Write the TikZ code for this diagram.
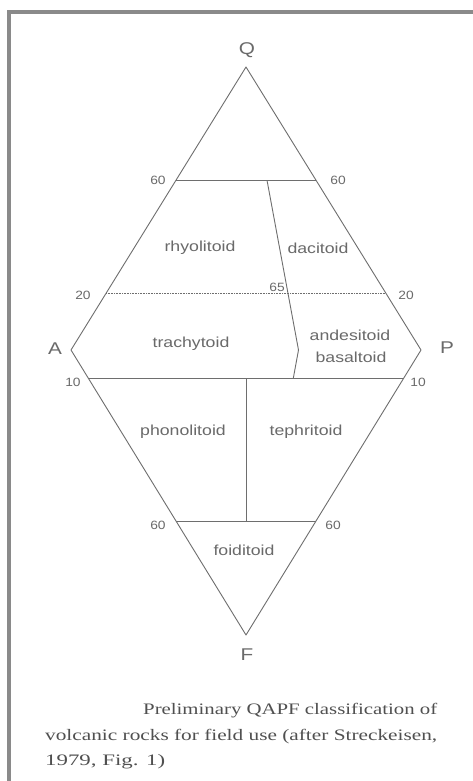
\documentclass[tikz,border=0pt]{standalone}
\usepackage{fontspec}
\setmainfont{Liberation Serif}
\setsansfont{Liberation Sans}
\usetikzlibrary{calc}
\definecolor{lineg}{HTML}{6E6E6E}
\definecolor{textg}{HTML}{6A6A6A}
\definecolor{capg}{HTML}{505050}
\definecolor{frameg}{HTML}{8A8A8A}
\newcommand{\wlab}[1]{\scalebox{1.22}[1]{#1}}
\newcommand{\wtick}[1]{\scalebox{1.15}[1]{#1}}
\begin{document}
\begin{tikzpicture}[x=1pt,y=-1pt,
  edge/.style={draw=lineg,line width=0.9pt,line join=round},
  region/.style={text=textg,font=\sffamily\fontsize{14.5}{16}\selectfont,inner sep=0pt},
  tick/.style={text=textg,font=\sffamily\fontsize{12}{13}\selectfont,inner sep=0pt},
  corner/.style={text=textg,font=\sffamily\fontsize{17}{19}\selectfont,inner sep=0pt},
  captxt/.style={text=capg,font=\rmfamily\fontsize{16}{18}\selectfont,inner sep=0pt,anchor=base west}]

\useasboundingbox (0,0) rectangle (473,781);
\fill[white] (0,0) rectangle (473,781);
\draw[frameg,line width=4pt] (9,783) -- (9,12) -- (475,12);

% vertices
\coordinate (Q) at (246,67);
\coordinate (A) at (71,350);
\coordinate (P) at (421,350);
\coordinate (F) at (246,635);

% field boundaries
\coordinate (q60a) at ($(A)!0.6!(Q)$);
\coordinate (q60p) at ($(P)!0.6!(Q)$);
\coordinate (q20a) at ($(A)!0.2!(Q)$);
\coordinate (q20p) at ($(P)!0.2!(Q)$);
\coordinate (f10a) at ($(A)!0.1!(F)$);
\coordinate (f10p) at ($(P)!0.1!(F)$);
\coordinate (f60a) at ($(A)!0.6!(F)$);
\coordinate (f60p) at ($(P)!0.6!(F)$);
\coordinate (d60) at ($(q60a)!0.65!(q60p)$);
\coordinate (d20) at ($(q20a)!0.65!(q20p)$);
\coordinate (d0) at ($(A)!0.65!(P)$);
\coordinate (d10) at ($(f10a)!0.65!(f10p)$);
\coordinate (m10) at ($(f10a)!0.5!(f10p)$);
\coordinate (m60) at ($(f60a)!0.5!(f60p)$);

\draw[edge] (Q) -- (P) -- (F) -- (A) -- cycle;
\draw[edge] (q60a) -- (q60p);
\draw[edge,line width=0.8pt,dash pattern=on 0.8pt off 0.8pt] (q20a) -- (q20p);
\draw[edge] (d60) -- (d20) -- (d0) -- (d10);
\draw[edge] (f10a) -- (f10p);
\draw[edge] (f60a) -- (f60p);
\draw[edge] (m10) -- (m60);

% corner labels
\node[corner] (lQ) at (247,50) {\wlab{Q}};
\node[corner] (lA) at (55,349) {\wlab{A}};
\node[corner] (lP) at (447,348) {\wlab{P}};
\node[corner] (lF) at (247,655) {\wlab{F}};

% tick labels
\node[tick] (t60a) at (158,180) {\wtick{60}};
\node[tick] (t60p) at (338,180) {\wtick{60}};
\node[tick] (t20a) at (83,295) {\wtick{20}};
\node[tick] (t20p) at (406,295) {\wtick{20}};
\node[tick] (t65) at (277,287) {\wtick{65}};
\node[tick] (t10a) at (73,382) {\wtick{10}};
\node[tick] (t10p) at (418,382) {\wtick{10}};
\node[tick] (t60fa) at (158,525) {\wtick{60}};
\node[tick] (t60fp) at (333,525) {\wtick{60}};

% field names
\node[region] (rhy) at (200,248) {\wlab{rhyolitoid}};
\node[region] (dac) at (318,248) {\wlab{dacitoid}};
\node[region] (tra) at (191,344) {\wlab{trachytoid}};
\node[region] (and) at (350,335) {\wlab{andesitoid}};
\node[region] (bas) at (351,357) {\wlab{basaltoid}};
\node[region] (pho) at (183,432) {\wlab{phonolitoid}};
\node[region] (tep) at (306,432) {\wlab{tephritoid}};
\node[region] (foi) at (244,550) {\wlab{foiditoid}};

% caption
\node[captxt] (cap1) at (143,714) {\resizebox{294pt}{\height}{Preliminary QAPF classification of}};
\node[captxt] (cap2) at (45,740) {\resizebox{392pt}{\height}{volcanic rocks for field use (after Streckeisen,}};
\node[captxt] (cap3) at (45,765) {\resizebox{120pt}{\height}{1979, Fig. 1)}};
\end{tikzpicture}
\end{document}
